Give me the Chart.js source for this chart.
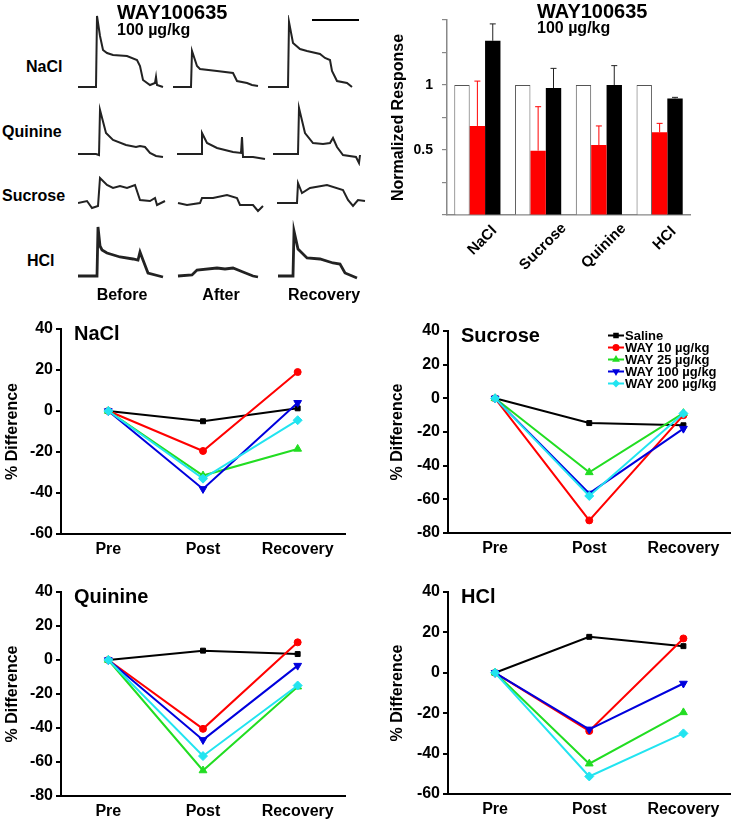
<!DOCTYPE html>
<html lang="en">
<head>
<meta charset="UTF-8">
<title>WAY100635</title>
<script src="https://cdn.jsdelivr.net/npm/chart.js"></script>
<style>
  body { margin: 0; background: #fff; }
  #fig { position: relative; width: 736px; height: 820px; overflow: hidden;
         font-family: "Liberation Sans", Arial, sans-serif; font-weight: bold; color: #000; }
  #fig canvas { position: absolute; }
  .lbl { position: absolute; white-space: nowrap; line-height: 1; }
</style>
</head>
<body>
<div id="fig"></div>
<script>
// ---- recorded traces (x = time px, y = amplitude px above baseline) ----
const naclBefore = [[0,0],[18,0],[19,71],[22,51],[25,37],[29,34],[35,32],[49,31],[59,27],[62,21],[65,7],[72,2],[77,4],[78,10],[79,2],[85,0]];
const naclAfter = [[0,0],[18,0],[19,36],[24,21],[27,18],[44,16],[60,14],[64,6],[74,4],[79,2],[85,1]];
const naclRecovery = [[0,0],[20,0],[21,65],[25,44],[32,38],[39,36],[52,33],[57,29],[62,27],[64,16],[69,6],[79,4],[84,0]];
const quinineBefore = [[0,0],[18,0],[21,-1],[22,44],[28,21],[35,14],[48,9],[58,7],[62,8],[67,7],[72,1],[78,-2],[85,-3]];
const quinineAfter = [[4,0],[28,0],[29,21],[34,11],[44,6],[60,2],[68,1],[69,17],[70,-3],[80,-3],[92,-5]];
const quinineRecovery = [[5,0],[30,0],[31,46],[37,21],[45,11],[55,10],[62,11],[65,16],[69,7],[75,-1],[88,-3],[91,-9],[92,-1]];
const sucroseBefore = [[0,0],[9,2],[14,-5],[20,-3],[22,25],[29,18],[35,15],[42,17],[49,15],[57,18],[62,3],[72,2],[77,5],[79,-2],[87,2]];
const sucroseAfter = [[5,0],[14,-2],[27,0],[29,5],[40,5],[54,8],[64,5],[67,-2],[80,-2],[85,-8],[90,-3]];
const sucroseRecovery = [[9,0],[29,0],[30,20],[34,10],[42,15],[59,18],[75,13],[80,3],[85,-3],[90,3],[97,2]];
const hclBefore = [[0,0],[19,0],[20,49],[22,30],[24,26],[29,23],[42,19],[55,17],[60,16],[62,24],[65,16],[70,3],[85,-1]];
const hclAfter = [[5,0],[19,1],[24,6],[44,8],[52,7],[60,8],[70,4],[80,0],[85,-1]];
const hclRecovery = [[10,0],[25,0],[26,45],[30,27],[39,18],[52,17],[65,13],[72,12],[77,3],[89,-2]];

// ---- normalized response (bar chart) ----
const tastants = ['NaCl', 'Sucrose', 'Quinine', 'HCl'];
const respBefore = [1, 1, 1, 1];
const respAfter = [0.685, 0.495, 0.538, 0.636];
const respAfterErr = [0.345, 0.338, 0.147, 0.069];
const respRecovery = [1.34, 0.977, 1.0, 0.897];
const respRecoveryErr = [0.13, 0.151, 0.149, 0.008];
const respTickLabels = [0.5, 1];

// ---- % difference panels ----
const phases = ['Pre', 'Post', 'Recovery'];
const groups = ['Saline', 'WAY 10 µg/kg', 'WAY 25 µg/kg', 'WAY 100 µg/kg', 'WAY 200 µg/kg'];
const naclSaline = [0, -5, 1.3];
const naclWay10 = [0, -19.5, 19];
const naclWay25 = [0, -31.5, -18.5];
const naclWay100 = [0, -38, 4];
const naclWay200 = [0, -33, -4.5];
const sucroseSaline = [0, -14.7, -16];
const sucroseWay10 = [0, -72.5, -10];
const sucroseWay25 = [0, -44, -8.8];
const sucroseWay100 = [0, -56.5, -18];
const sucroseWay200 = [0, -58, -9];
const quinineSaline = [0, 5.5, 3.5];
const quinineWay10 = [0, -40.5, 10.4];
const quinineWay25 = [0, -65, -15.7];
const quinineWay100 = [0, -47, -3.3];
const quinineWay200 = [0, -56.5, -15];
const hclSaline = [0, 17.8, 13.2];
const hclWay10 = [0, -28.8, 17];
const hclWay25 = [0, -45, -19.6];
const hclWay100 = [0, -28, -5.3];
const hclWay200 = [0, -51.3, -30];

const fig = document.getElementById('fig');
const FONT = '"Liberation Sans", Arial, sans-serif';

function label(text, x, y, size, center) {
  const d = document.createElement('div');
  d.className = 'lbl';
  d.textContent = text;
  d.style.fontSize = size + 'px';
  d.style.left = x + 'px';
  d.style.top = (y - size * 0.49) + 'px';
  if (center) d.style.transform = 'translateX(-50%)';
  fig.appendChild(d);
}

function canvasAt(left, top, w, h) {
  const c = document.createElement('canvas');
  c.width = w; c.height = h;
  c.style.left = left + 'px';
  c.style.top = top + 'px';
  fig.appendChild(c);
  return c;
}

const baseOpts = {
  responsive: false, animation: false, events: [],
  plugins: { legend: { display: false }, tooltip: { enabled: false } }
};

// ---------- top-left: traces ----------
function trace(pts, left, baseline, thick) {
  const c = canvasAt(left, baseline - 72, 100, 84);
  new Chart(c, {
    type: 'line',
    data: { datasets: [{ data: pts.map(p => ({ x: p[0], y: p[1] })), borderColor: '#222',
      borderWidth: thick ? 2.8 : 2, pointRadius: 0, tension: 0 }] },
    options: { ...baseOpts, layout: { padding: 0 },
      scales: { x: { type: 'linear', min: 0, max: 100, display: false },
                y: { min: -12, max: 72, display: false } } }
  });
}
const colLeft = [78, 173, 268];
const traceRows = [
  { name: 'NaCl', x: 26, base: 87, ly: 67, traces: [naclBefore, naclAfter, naclRecovery] },
  { name: 'Quinine', x: 2, base: 154, ly: 132, traces: [quinineBefore, quinineAfter, quinineRecovery] },
  { name: 'Sucrose', x: 2, base: 203, ly: 196, traces: [sucroseBefore, sucroseAfter, sucroseRecovery] },
  { name: 'HCl', x: 27, base: 276, ly: 261, traces: [hclBefore, hclAfter, hclRecovery], thick: true }
];
traceRows.forEach(r => {
  label(r.name, r.x, r.ly, 16);
  r.traces.forEach((t, i) => trace(t, colLeft[i], r.base, r.thick));
});
label('Before', 122, 295, 16, true);
label('After', 221, 295, 16, true);
label('Recovery', 324, 295, 16, true);
label('WAY100635', 117, 12, 20);
label('100 µg/kg', 117, 30, 16);
const bar = document.createElement('div');
bar.style.cssText = 'position:absolute;left:312px;top:19px;width:47px;height:2px;background:#000';
fig.appendChild(bar);

// ---------- top-right: bar chart ----------
label('WAY100635', 537, 11, 20);
label('100 µg/kg', 537, 28, 16);

const errorBars = {
  id: 'errorBars',
  afterDatasetsDraw(chart) {
    const ctx = chart.ctx, y = chart.scales.y;
    [[1, respAfterErr, '#f00'], [2, respRecoveryErr, '#222']].forEach(([di, errs, col]) => {
      const meta = chart.getDatasetMeta(di);
      meta.data.forEach((el, i) => {
        const v = chart.data.datasets[di].data[i];
        const top = y.getPixelForValue(v + errs[i]);
        ctx.save();
        ctx.strokeStyle = col; ctx.lineWidth = 1;
        ctx.beginPath();
        ctx.moveTo(el.x, el.y); ctx.lineTo(el.x, top);
        ctx.moveTo(el.x - 3, top); ctx.lineTo(el.x + 3, top);
        ctx.stroke();
        ctx.restore();
      });
    });
  }
};
const slantLabels = {
  id: 'slantLabels',
  afterDraw(chart) {
    const ctx = chart.ctx, xs = chart.scales.x;
    ctx.save();
    ctx.font = 'bold 15px ' + FONT;
    ctx.fillStyle = '#000';
    ctx.textAlign = 'center'; ctx.textBaseline = 'middle';
    chart.data.labels.forEach((t, i) => {
      const w = ctx.measureText(t).width;
      ctx.save();
      ctx.translate(xs.getPixelForTick(i) + 5, chart.chartArea.bottom + 17 + w * 0.25);
      ctx.rotate(-Math.PI / 4);
      ctx.fillText(t, 0, 0);
      ctx.restore();
    });
    ctx.restore();
  }
};
new Chart(canvasAt(380, 0, 356, 310), {
  type: 'bar',
  data: { labels: tastants, datasets: [
    { data: respBefore, backgroundColor: '#fff', borderColor: '#555', borderWidth: 1 },
    { data: respAfter, backgroundColor: '#f00', borderWidth: 0 },
    { data: respRecovery, backgroundColor: '#000', borderWidth: 0 }
  ] },
  options: { ...baseOpts,
    layout: { padding: { top: 20, right: 46, left: 0, bottom: 0 } },
    datasets: { bar: { categoryPercentage: 0.76, barPercentage: 1 } },
    scales: {
      x: { grid: { display: true, drawOnChartArea: false, drawTicks: false },
           border: { color: '#888', width: 1.5 }, ticks: { display: false },
           afterFit(s) { s.height = 95; } },
      y: { min: 0, max: 1.5,
           ticks: { stepSize: 0.25, padding: 9, color: '#000', font: { family: FONT, size: 14, weight: 'bold' },
                    callback: v => respTickLabels.includes(v) ? String(v) : '' },
           grid: { drawOnChartArea: false, tickLength: 5, color: '#888', lineWidth: 1.2 },
           border: { color: '#888', width: 1.5 },
           title: { display: true, text: 'Normalized Response', color: '#000',
                    font: { family: FONT, size: 16, weight: 'bold' }, padding: { top: 9 } },
           afterFit(s) { s.width = 67; } }
    }
  },
  plugins: [errorBars, slantLabels]
});

// ---------- bottom: % difference panels ----------
const styles = [
  { color: '#000', pointStyle: 'rect', radius: 3.5, rotation: 0 },
  { color: '#f00', pointStyle: 'circle', radius: 3.5, rotation: 0 },
  { color: '#22dd22', pointStyle: 'triangle', radius: 4.5, rotation: 0 },
  { color: '#0000dd', pointStyle: 'triangle', radius: 4.5, rotation: 180 },
  { color: '#22e4f0', pointStyle: 'rectRot', radius: 4.5, rotation: 0 }
];

const panelTitle = {
  id: 'panelTitle',
  afterDraw(chart, args, opts) {
    const ctx = chart.ctx, a = chart.chartArea;
    ctx.save();
    ctx.font = 'bold 20px ' + FONT;
    ctx.fillStyle = '#000';
    ctx.textAlign = 'left'; ctx.textBaseline = 'middle';
    ctx.fillText(opts.text, a.left + 13, a.top + 5);
    ctx.restore();
  }
};
const lineLegend = {
  id: 'lineLegend',
  afterDraw(chart, args, opts) {
    if (!opts.show) return;
    const ctx = chart.ctx, a = chart.chartArea;
    const x0 = a.left + 160;
    ctx.save();
    ctx.font = 'bold 13px ' + FONT;
    ctx.textAlign = 'left'; ctx.textBaseline = 'middle';
    groups.forEach((g, i) => {
      const s = styles[i], y = a.top + 4.5 + i * 12;
      ctx.strokeStyle = s.color; ctx.lineWidth = 2;
      ctx.beginPath(); ctx.moveTo(x0, y); ctx.lineTo(x0 + 16, y); ctx.stroke();
      ctx.fillStyle = s.color;
      Chart.helpers.drawPoint(ctx, { pointStyle: s.pointStyle, radius: 2.5, rotation: s.rotation, borderWidth: 1 }, x0 + 8, y);
      ctx.fillStyle = '#000';
      ctx.fillText(g, x0 + 17, y + 0.5);
    });
    ctx.restore();
  }
};

function panel(title, series, left, top, w, h, area, yMin, yMax, titlePad, legend) {
  new Chart(canvasAt(left, top, w, h), {
    type: 'line',
    data: { labels: phases, datasets: series.map((d, i) => ({
      label: groups[i], data: d, order: 4 - i,
      borderColor: styles[i].color, backgroundColor: styles[i].color,
      borderWidth: 2, tension: 0,
      pointStyle: styles[i].pointStyle, pointRadius: styles[i].radius,
      pointRotation: styles[i].rotation, pointBorderWidth: 1
    })) },
    options: { ...baseOpts,
      layout: { padding: { top: area.top - top, right: left + w - area.right, left: 0, bottom: 0 } },
      plugins: { ...baseOpts.plugins, panelTitle: { text: title }, lineLegend: { show: legend } },
      scales: {
        x: { offset: true,
             grid: { display: true, drawOnChartArea: false, drawTicks: false },
             border: { color: '#000', width: 2 },
             ticks: { padding: 6, color: '#000', font: { family: FONT, size: 16, weight: 'bold' } },
             afterFit(s) { s.height = top + h - area.bottom; } },
        y: { min: yMin, max: yMax,
             ticks: { stepSize: 20, padding: 3, color: '#000', font: { family: FONT, size: 16, weight: 'bold' } },
             grid: { drawOnChartArea: false, tickLength: 5, color: '#000', lineWidth: 2 },
             border: { color: '#000', width: 2 },
             title: { display: true, text: '% Difference', color: '#000',
                      font: { family: FONT, size: 16, weight: 'bold' }, padding: { top: titlePad } },
             afterFit(s) { s.width = area.left - left; } }
      }
    },
    plugins: [panelTitle, lineLegend]
  });
}

panel('NaCl', [naclSaline, naclWay10, naclWay25, naclWay100, naclWay200],
  0, 310, 368, 260, { left: 61, right: 345, top: 329, bottom: 534 }, -60, 40, 2.5, false);
panel('Sucrose', [sucroseSaline, sucroseWay10, sucroseWay25, sucroseWay100, sucroseWay200],
  368, 310, 368, 260, { left: 448, right: 733, top: 331, bottom: 533 }, -80, 40, 19.5, true);
panel('Quinine', [quinineSaline, quinineWay10, quinineWay25, quinineWay100, quinineWay200],
  0, 570, 368, 250, { left: 61, right: 345, top: 592, bottom: 796 }, -80, 40, 2.5, false);
panel('HCl', [hclSaline, hclWay10, hclWay25, hclWay100, hclWay200],
  368, 570, 368, 250, { left: 448, right: 733, top: 592, bottom: 794 }, -60, 40, 19.5, false);
</script>
</body>
</html>
